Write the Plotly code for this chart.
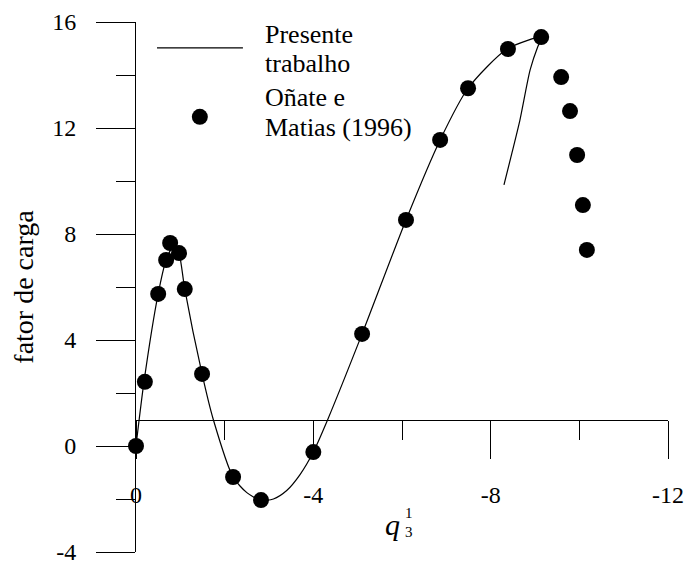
import plotly.graph_objects as go

# "Presente trabalho" curve (q3^1, load factor)
curve_x = [0.0, -0.18, -0.5, -0.68, -0.86, -0.97, -1.1, -1.49, -1.74, -2.19, -2.5,
           -2.82, -3.1, -3.4, -3.7, -4.0, -4.33, -5.1, -6.09, -6.86, -7.49, -8.37,
           -9.16, -9.06, -8.89, -8.66, -8.48, -8.30]
curve_y = [0.0, 2.42, 5.74, 7.02, 7.58, 7.28, 5.92, 2.72, 1.02, -1.17, -1.76,
           -2.05, -2.0, -1.68, -1.08, -0.23, 1.02, 4.23, 8.53, 11.55, 13.5, 14.98,
           15.43, 15.06, 14.19, 12.30, 11.06, 9.85]

# Oñate e Matias (1996) reference points
ref_x = [0.0, -0.2, -0.5, -0.68, -0.77, -0.97, -1.1, -1.49, -2.19, -2.82, -4.0,
         -5.1, -6.09, -6.86, -7.49, -8.39, -9.14, -9.59, -9.79, -9.95, -10.08, -10.17]
ref_y = [0.0, 2.42, 5.74, 7.02, 7.66, 7.28, 5.92, 2.72, -1.17, -2.04, -0.23,
         4.23, 8.53, 11.55, 13.5, 14.98, 15.43, 13.92, 12.64, 10.98, 9.09, 7.4]

x_ticks = [0, -4, -8, -12]
y_ticks = [-4, 0, 4, 8, 12, 16]

legend_lines = ["Presente", "trabalho", "Oñate e", "Matias (1996)"]

FONT = "Liberation Serif"

fig = go.Figure()
fig.add_trace(go.Scatter(
    x=curve_x, y=curve_y, mode="lines", name="Presente trabalho",
    line=dict(color="black", width=1.2, shape="spline", smoothing=0.7),
    showlegend=False, cliponaxis=False))
fig.add_trace(go.Scatter(
    x=ref_x, y=ref_y, mode="markers", name="Oñate e Matias (1996)",
    marker=dict(color="black", size=16, line=dict(width=0)),
    showlegend=False, cliponaxis=False))

# hand-drawn legend (paper coordinates)
fig.add_shape(type="line", xref="paper", yref="paper",
              x0=0.0395, x1=0.201, y0=0.951, y1=0.951,
              line=dict(color="black", width=1.2))
fig.add_shape(type="circle", xref="paper", yref="paper",
              xsizemode="pixel", ysizemode="pixel",
              xanchor=0.120, yanchor=0.821, x0=-8, x1=8, y0=-8, y1=8,
              fillcolor="black", line=dict(width=0))
legend_y = [0.977, 0.922, 0.858, 0.800]
for txt, yy in zip(legend_lines, legend_y):
    fig.add_annotation(xref="paper", yref="paper", x=0.239, y=yy,
                       xanchor="left", yanchor="middle", align="left", showarrow=False,
                       text=txt, font=dict(family=FONT, size=26, color="black"))

# x-axis title q with stacked indices
fig.add_annotation(xref="paper", yref="paper", x=0.483, y=0.052,
                   xanchor="center", yanchor="middle", showarrow=False,
                   text="<i>q</i>", font=dict(family=FONT, size=30, color="black"))
fig.add_annotation(xref="paper", yref="paper", x=0.514, y=0.074,
                   xanchor="center", yanchor="middle", showarrow=False,
                   text="1", font=dict(family=FONT, size=15, color="black"))
fig.add_annotation(xref="paper", yref="paper", x=0.514, y=0.038,
                   xanchor="center", yanchor="middle", showarrow=False,
                   text="3", font=dict(family=FONT, size=15, color="black"))

fig.update_layout(
    width=686, height=567,
    margin=dict(l=136, r=18, t=22, b=15, autoexpand=False),
    paper_bgcolor="white", plot_bgcolor="white",
    font=dict(family=FONT, size=24, color="black"),
    xaxis=dict(
        range=[0, -12], anchor="free", position=0.25, automargin=False,
        showline=True, linecolor="black", linewidth=1,
        showgrid=False, zeroline=False,
        ticks="outside", ticklen=38, tickwidth=1, tickcolor="black",
        tickmode="array", tickvals=x_ticks, ticktext=[str(v) for v in x_ticks],
        minor=dict(dtick=2, tick0=0, ticks="outside", ticklen=19, tickwidth=1,
                   tickcolor="black", showgrid=False),
        ticklabelstandoff=16,
        tickfont=dict(family=FONT, size=24),
    ),
    yaxis=dict(
        range=[-4, 16], automargin=False,
        showline=True, linecolor="black", linewidth=1,
        showgrid=False, zeroline=False,
        ticks="outside", ticklen=39, tickwidth=1, tickcolor="black",
        tickmode="array", tickvals=y_ticks, ticktext=[str(v) for v in y_ticks],
        minor=dict(dtick=2, tick0=0, ticks="outside", ticklen=19, tickwidth=1,
                   tickcolor="black", showgrid=False),
        ticklabelstandoff=15,
        tickfont=dict(family=FONT, size=24),
        title=dict(text="fator de carga", font=dict(family=FONT, size=28), standoff=10),
    ),
)

fig.write_html("out.html")
